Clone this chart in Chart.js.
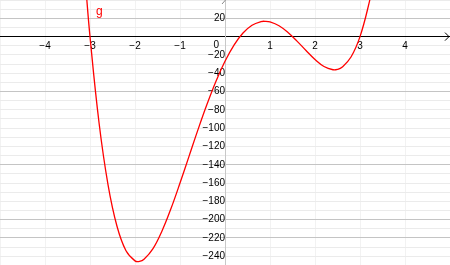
<!DOCTYPE html>
<html>
<head>
<meta charset="utf-8">
<script src="https://cdn.jsdelivr.net/npm/chart.js@4/dist/chart.umd.min.js"></script>
<style>
  body { margin: 0; background: #fff; }
  #wrap { position: relative; width: 450px; height: 265px; }
  canvas { display: block; }
  #name { position: absolute; left: 96px; top: 4px; color: #ff0000; font: 12px "Liberation Sans", sans-serif; }
</style>
</head>
<body>
<div id="wrap">
  <canvas id="graph" width="450" height="265"></canvas>
  <span id="name">g</span>
</div>
<script>
const xValues = [-3.1, -3.0, -2.8, -2.6, -2.4, -2.2, -2.0, -1.9, -1.8, -1.6, -1.4, -1.2, -1.0, -0.8, -0.6, -0.4, -0.2,
    0.0, 0.2, 0.4, 0.6, 0.8, 0.9, 1.0, 1.2, 1.4, 1.6, 1.8, 2.0, 2.2, 2.4, 2.5, 2.6, 2.8, 3.0, 3.2, 3.3];
const yValues = [57.8, 0, -93.8, -161.6, -207.2, -234.0, -245.0, -245.6, -243.3, -231.6, -212.3, -187.8, -160.0, -130.8, -101.6, -73.9, -48.7,
    -27.0, -9.3, 3.9, 12.4, 16.4, 16.7, 16.0, 11.8, 4.5, -4.9, -15.2, -25.0, -32.6, -36.2, -35.8, -33.5, -22.3, 0, 36.3, 60.6];
const xTicks = [-4, -3, -2, -1, 1, 2, 3, 4];
const yTicks = [20, -20, -40, -60, -80, -100, -120, -140, -160, -180, -200, -220, -240];
const darkLines = [20, -60, -140, -200, -220];

const minus = v => String(v).replace('-', '\u2212');
// keep the axes from pushing the plot area inwards
const noPadding = s => { s.paddingTop = s.paddingBottom = s.paddingLeft = s.paddingRight = 0; };

const extras = {
    id: 'extras',
    afterDraw(chart) {
        const c = chart.ctx;
        const xs = chart.scales.x, ys = chart.scales.y;
        const ox = xs.getPixelForValue(0), oy = ys.getPixelForValue(0);
        c.save();
        // origin label
        c.fillStyle = '#000';
        c.font = '10px "Liberation Sans"';
        c.textAlign = 'right';
        c.textBaseline = 'top';
        c.fillText('0', ox - 6, oy + 4);
        // axis arrows
        c.strokeStyle = '#000';
        c.lineWidth = 1;
        c.beginPath();
        c.moveTo(chart.width - 5, oy - 4);
        c.lineTo(chart.width - 1, oy);
        c.lineTo(chart.width - 5, oy + 4);
        c.stroke();
        c.strokeStyle = '#888';
        c.beginPath();
        c.moveTo(ox - 3, 4);
        c.lineTo(ox + 0.5, 0);
        c.stroke();
        c.restore();
    }
};

const ctx = document.getElementById('graph').getContext('2d');
const graph = new Chart(ctx, {
    type: 'line',
    data: {
        datasets: [{
            data: xValues.map((x, i) => ({ x: x, y: yValues[i] })),
            borderColor: '#ff0000',
            borderWidth: 1.3,
            pointRadius: 0,
            tension: 0.4,
            fill: false
        }]
    },
    options: {
        responsive: false,
        animation: false,
        layout: { padding: 0 },
        plugins: {
            legend: { display: false },
            tooltip: { enabled: false }
        },
        scales: {
            x: {
                type: 'linear',
                position: { y: 0 },
                min: -5,
                max: 5,
                afterFit: noPadding,
                grid: {
                    color: '#f2f2f2',
                    drawTicks: false
                },
                border: { color: '#000', width: 1 },
                ticks: {
                    stepSize: 1,
                    autoSkip: false,
                    maxRotation: 0,
                    padding: 4,
                    color: '#000',
                    font: { family: 'Liberation Sans', size: 10 },
                    callback: v => xTicks.includes(v) ? minus(v) : ''
                }
            },
            y: {
                type: 'linear',
                position: { x: 0 },
                min: -249.5,
                max: 40,
                afterFit: noPadding,
                grid: {
                    color: c => darkLines.includes(c.tick.value) ? '#c4c4c4' : '#ebebeb',
                    drawTicks: false
                },
                border: { color: '#c8c8c8', width: 1 },
                ticks: {
                    stepSize: 10,
                    includeBounds: false,
                    autoSkip: false,
                    padding: 5,
                    color: '#000',
                    font: { family: 'Liberation Sans', size: 10 },
                    callback: v => yTicks.includes(v) ? minus(v) : ''
                }
            }
        }
    },
    plugins: [extras]
});
</script>
</body>
</html>
